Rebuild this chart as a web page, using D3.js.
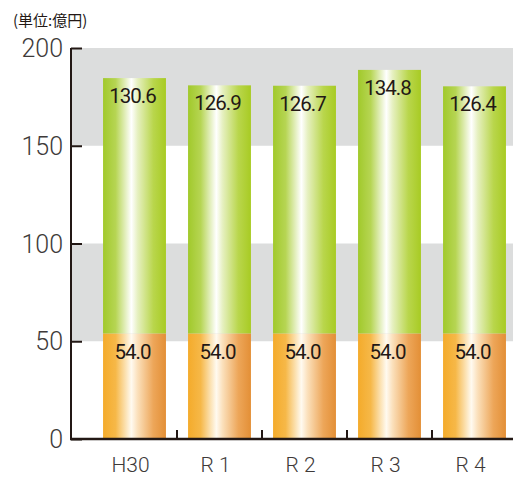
<!DOCTYPE html>
<html><head><meta charset="utf-8">
<script src="https://cdn.jsdelivr.net/npm/d3@7"></script>
<style>body{margin:0;background:#fff}svg{display:block}</style>
</head><body>
<svg id="c" width="513" height="477"></svg>
<script>
const categories = ["H30", "R 1", "R 2", "R 3", "R 4"];
const baseValues = [54.0, 54.0, 54.0, 54.0, 54.0];
const topValues = [130.6, 126.9, 126.7, 134.8, 126.4];
const yTicks = [0, 50, 100, 150, 200];
const unitLabel = "(単位:億円)";

const svg = d3.select("#c");
const defs = svg.append("defs");
function grad(id, stops){
  const g = defs.append("linearGradient").attr("id", id).attr("x1","0").attr("x2","1").attr("y1","0").attr("y2","0");
  stops.forEach(s => g.append("stop").attr("offset", s[0]).attr("stop-color", s[1]));
}
grad("gOrange", [[0,"#f4ab2b"],[0.2,"#f6b848"],[0.45,"#fffaf0"],[0.55,"#fbe0bb"],[0.8,"#eda659"],[1,"#e38f36"]]);
grad("gGreen", [[0,"#a1c92b"],[0.2,"#b6d553"],[0.45,"#ffffff"],[0.55,"#e6f0c0"],[0.8,"#b9d64c"],[1,"#a8cb23"]]);

const axisX = 71, right = 513;
const y = d3.scaleLinear().domain([0, 200]).range([439, 48]);
const x = d3.scaleBand().domain(categories).range([92, 517]).paddingInner(0.26).paddingOuter(0.13);
const lightFont = "Roboto, Liberation Sans, Arial";

// gray bands
[[150,200],[50,100]].forEach(b => {
  svg.append("rect").attr("x", axisX).attr("width", right - axisX)
    .attr("y", y(b[1])).attr("height", y(b[0]) - y(b[1])).attr("fill", "#dcdddd");
});

// bars
const g = svg.append("g");
function valueLabel(cx, yy, txt){
  g.append("text").attr("x", cx).attr("y", yy)
    .attr("text-anchor","middle").attr("font-family", lightFont).attr("font-size", 20.5)
    .attr("letter-spacing", "-1px")
    .attr("fill","#231815").text(txt);
}
categories.forEach((c, i) => {
  g.append("rect").attr("x", x(c)).attr("width", x.bandwidth())
    .attr("y", y(baseValues[i])).attr("height", y(0) - y(baseValues[i])).attr("fill", "url(#gOrange)");
  g.append("rect").attr("x", x(c)).attr("width", x.bandwidth())
    .attr("y", y(baseValues[i] + topValues[i])).attr("height", y(baseValues[i]) - y(baseValues[i] + topValues[i])).attr("fill", "url(#gGreen)");
  const cx = x(c) + x.bandwidth()/2 - 2;
  valueLabel(cx, y(baseValues[i]) + 26, baseValues[i].toFixed(1));
  valueLabel(cx, y(baseValues[i] + topValues[i]) + 25, topValues[i].toFixed(1));
});

// y axis
const yAxis = d3.axisRight(y).tickValues(yTicks).tickSize(11).tickFormat("");
const ya = svg.append("g").attr("transform", `translate(${axisX},0)`).call(yAxis);
ya.select(".domain").remove();
ya.selectAll(".tick line").attr("stroke","#231815").attr("stroke-width",2);
yTicks.forEach(t => {
  svg.append("text").attr("x", 63).attr("y", y(t) + 9).attr("text-anchor","end")
    .attr("font-family", lightFont).attr("font-weight", 300).attr("font-size", 25).attr("fill","#3e3a39").text(t);
});
svg.append("line").attr("x1", axisX).attr("x2", axisX).attr("y1", y(200)).attr("y2", y(0)+1)
  .attr("stroke","#231815").attr("stroke-width",2);

// x axis
svg.append("line").attr("x1", axisX-1).attr("x2", right).attr("y1", y(0)).attr("y2", y(0))
  .attr("stroke","#231815").attr("stroke-width",2.5);
const step = x.step();
categories.slice(1).forEach(c => {
  const bx = x(c) - step * x.paddingInner() / 2;
  svg.append("line").attr("x1", bx).attr("x2", bx).attr("y1", y(0)).attr("y2", y(0) - 9)
    .attr("stroke","#231815").attr("stroke-width",2);
});
categories.forEach(c => {
  svg.append("text").attr("x", x(c) + x.bandwidth()/2 - 4).attr("y", 472).attr("text-anchor","middle")
    .attr("font-family", lightFont).attr("font-weight", 300).attr("font-size", 21).attr("fill","#3e3a39").text(c);
});

svg.append("text").attr("x", 13).attr("y", 26).attr("font-family","Noto Sans CJK JP")
  .attr("font-size", 15).attr("fill","#231815").text(unitLabel);
</script>
</body></html>
